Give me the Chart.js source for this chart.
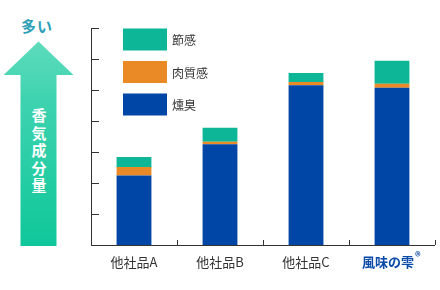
<!DOCTYPE html>
<html>
<head>
<meta charset="utf-8">
<script src="https://cdn.jsdelivr.net/npm/chart.js@4"></script>
<style>
  html, body { margin: 0; padding: 0; background: #fff; }
  #wrap { position: relative; width: 440px; height: 290px; font-family: "Noto Sans CJK JP", sans-serif; }
  #chart { position: absolute; left: 0; top: 0; }
  .arrow {
    position: absolute; left: 0; top: 0; width: 80px; height: 246px;
    background: linear-gradient(to bottom, #74e2c4 0%, #3fd3b0 40%, #0fc79a 100%);
    clip-path: polygon(38.5px 41.5px, 73.5px 75px, 56.5px 75px, 56.5px 246px, 20.5px 246px, 20.5px 75px, 3.5px 75px);
  }
  .many {
    position: absolute; left: 21px; top: 15px; font-size: 15px; font-weight: bold;
    color: #2d9fb6; letter-spacing: 1px;
  }
  .vtext {
    position: absolute; left: 31px; top: 106px; width: 16px; font-size: 15px; line-height: 17.5px;
    color: #fff; text-align: center; font-weight: bold;
  }
</style>
</head>
<body>
<div id="wrap">
  <div class="arrow"></div>
  <div class="many">多い</div>
  <div class="vtext">香<br>気<br>成<br>分<br>量</div>
  <canvas id="chart" width="440" height="290"></canvas>
</div>
<script>
// categories and series
const categories = ["他社品A", "他社品B", "他社品C", "風味の雫"];
const smoky = [2.24, 3.25, 5.15, 5.07];     // 燻臭
const meaty = [0.28, 0.08, 0.11, 0.13];     // 肉質感
const bushi = [0.32, 0.45, 0.29, 0.74];     // 節感
const yTicks = [0, 1, 2, 3, 4, 5, 6, 7];

const colors = { smoky: "#0046a6", meaty: "#e98a27", bushi: "#0cb697" };

// axes, ticks, category labels and legend drawn over the chart
const decor = {
  id: "decor",
  afterDraw(chart) {
    const ctx = chart.ctx;
    const x = chart.scales.x;
    const y = chart.scales.y;
    const area = chart.chartArea;
    ctx.save();
    ctx.strokeStyle = "#333";
    ctx.lineWidth = 1;
    // y axis + inward ticks
    ctx.beginPath();
    ctx.moveTo(area.left + 0.5, y.getPixelForValue(7));
    ctx.lineTo(area.left + 0.5, area.bottom);
    yTicks.forEach((v) => {
      if (v === 0) return;
      const py = Math.round(y.getPixelForValue(v)) + 0.5;
      ctx.moveTo(area.left, py);
      ctx.lineTo(area.left + 8, py);
    });
    // x axis + boundary ticks
    ctx.moveTo(area.left, area.bottom + 0.5);
    ctx.lineTo(area.right, area.bottom + 0.5);
    for (let i = 1; i <= categories.length; i++) {
      const px = Math.round((x.getPixelForValue(i - 1) + (i < categories.length ? x.getPixelForValue(i) : x.getPixelForValue(i - 1) * 2 - x.getPixelForValue(i - 2))) / 2) + 0.5;
      ctx.moveTo(px, area.bottom);
      ctx.lineTo(px, area.bottom - 5);
    }
    ctx.stroke();

    // category labels
    ctx.textBaseline = "middle";
    ctx.textAlign = "center";
    categories.forEach((c, i) => {
      const px = x.getPixelForValue(i);
      if (i === categories.length - 1) {
        ctx.font = "bold 13px 'Noto Sans CJK JP'";
        ctx.fillStyle = "#0a4aa8";
        const w = ctx.measureText(c).width;
        ctx.textAlign = "left";
        ctx.fillText(c, px - w / 2 - 4, 262);
        ctx.font = "bold 11px 'Noto Sans CJK JP'";
        ctx.fillText("®", px + w / 2 - 3, 257);
        ctx.textAlign = "center";
      } else {
        ctx.font = "13px 'Noto Sans CJK JP'";
        ctx.fillStyle = "#333";
        ctx.fillText(c, px, 262);
      }
    });

    // legend
    const items = [chart.data.datasets[2], chart.data.datasets[1], chart.data.datasets[0]];
    ctx.textAlign = "left";
    ctx.font = "12px 'Noto Sans CJK JP'";
    items.forEach((ds, i) => {
      const top = 28.5 + i * 32.5;
      ctx.fillStyle = ds.backgroundColor;
      ctx.fillRect(123, top, 44, 22);
      ctx.fillStyle = "#333";
      ctx.fillText(ds.label, 172, top + 12);
    });
    ctx.restore();
  }
};

new Chart(document.getElementById("chart"), {
  type: "bar",
  data: {
    labels: categories,
    datasets: [
      { label: "燻臭", data: smoky, backgroundColor: colors.smoky },
      { label: "肉質感", data: meaty, backgroundColor: colors.meaty },
      { label: "節感", data: bushi, backgroundColor: colors.bushi }
    ]
  },
  options: {
    responsive: false,
    animation: false,
    layout: { padding: { left: 91, right: 5, top: 28, bottom: 45 } },
    datasets: { bar: { categoryPercentage: 1, barPercentage: 0.405 } },
    scales: {
      x: { stacked: true, display: false },
      y: { stacked: true, display: false, min: 0, max: 7 }
    },
    plugins: { legend: { display: false }, tooltip: { enabled: false } }
  },
  plugins: [decor]
});
</script>
</body>
</html>
